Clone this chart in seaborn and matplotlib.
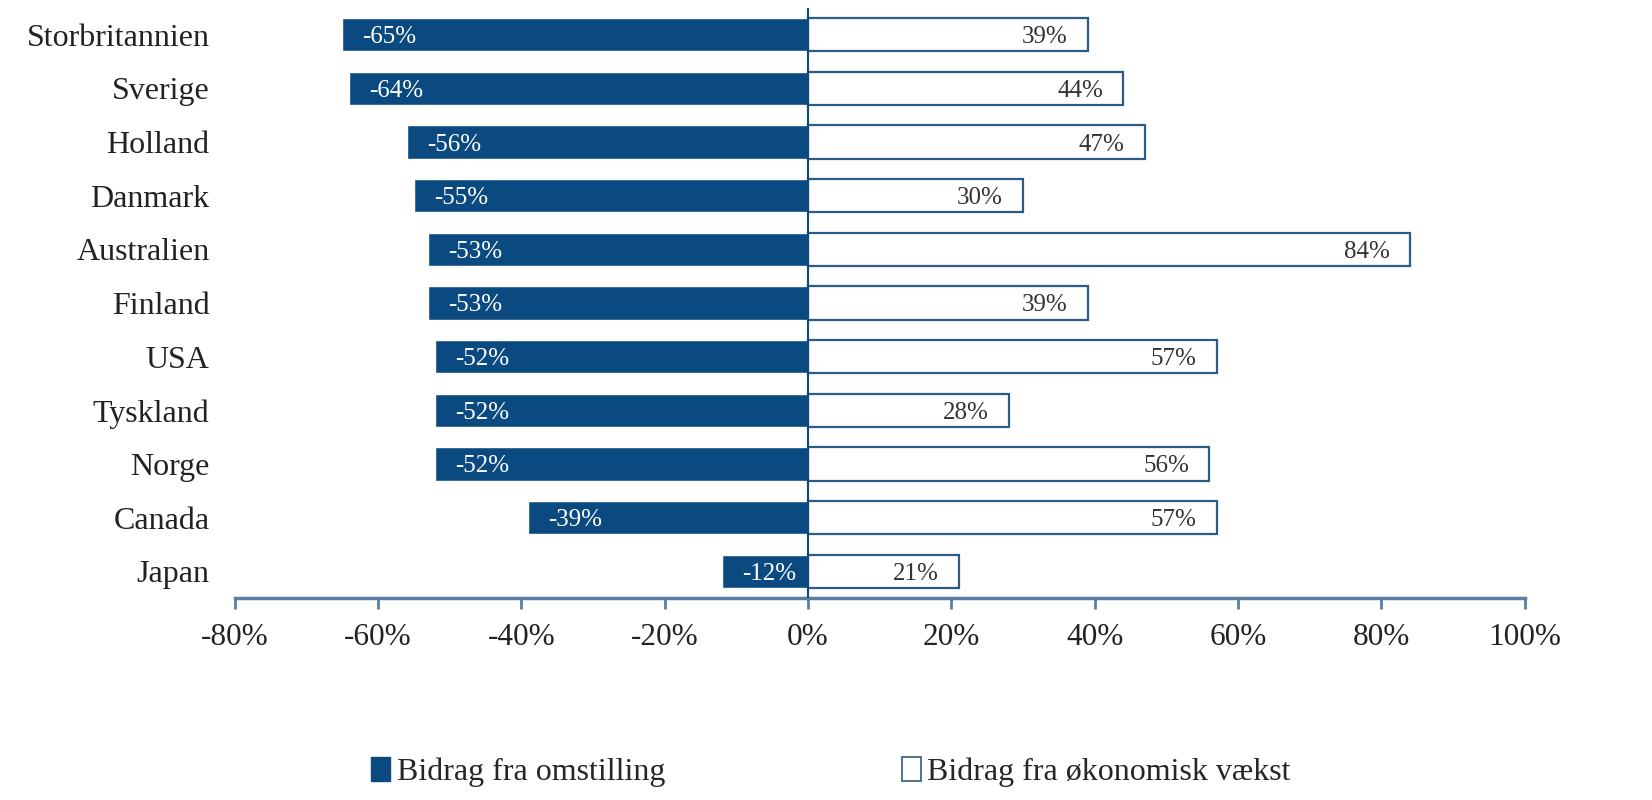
import numpy as np
import pandas as pd
import matplotlib
matplotlib.use("Agg")
import matplotlib.pyplot as plt
import seaborn as sns
from matplotlib.patches import Patch

# Data (percent)
lande = ['Storbritannien', 'Sverige', 'Holland', 'Danmark', 'Australien', 'Finland',
         'USA', 'Tyskland', 'Norge', 'Canada', 'Japan']
omstilling = [-65, -64, -56, -55, -53, -53, -52, -52, -52, -39, -12]
vaekst = [39, 44, 47, 30, 84, 39, 57, 28, 56, 57, 21]
xticks = [-80, -60, -40, -20, 0, 20, 40, 60, 80, 100]

df = pd.DataFrame({'Land': lande, 'Omstilling': omstilling, 'Vaekst': vaekst})

blaa = '#0b4a80'
kant = '#2e5a86'
akse = '#5b7fa2'

sns.set_theme(style="white")
plt.rcParams['font.family'] = ['Liberation Serif', 'DejaVu Serif']

fig = plt.figure(figsize=(16.52, 8), dpi=100)
ax = fig.add_axes([0.142, 0.2525, 0.781, 0.7375])

sns.barplot(data=df, x='Omstilling', y='Land', order=lande, color=blaa,
            saturation=1, width=0.62, orient='h', ax=ax)
sns.barplot(data=df, x='Vaekst', y='Land', order=lande, color='white',
            saturation=1, width=0.62, orient='h', edgecolor=kant, linewidth=1.6, ax=ax)

# Værdietiketter
for i, (o, v) in enumerate(zip(omstilling, vaekst)):
    ax.text(o + 2.8, i, f'{o}%', color='white', fontsize=18, va='center_baseline', ha='left')
    ax.text(v - 2.8, i, f'{v}%', color='#333333', fontsize=18, va='center_baseline', ha='right')

ax.axvline(0, color=blaa, lw=1.5, zorder=3)
ax.set_xlim(-80, 100)
ax.set_ylim(10.5, -0.5)
ax.set_xticks(xticks)
ax.set_xticklabels([f'{t}%' for t in xticks], fontsize=22.5, color='#222222')
ax.tick_params(axis='x', bottom=True, direction='out', length=8, width=2, color=akse, pad=10)
ax.tick_params(axis='y', left=False, length=0, pad=18, labelsize=23, labelcolor='#222222')
ax.set_xlabel('')
ax.set_ylabel('')
for side in ['top', 'right', 'left']:
    ax.spines[side].set_visible(False)
ax.spines['bottom'].set_color(akse)
ax.spines['bottom'].set_linewidth(2.5)

handles = [Patch(facecolor=blaa, edgecolor=blaa),
           Patch(facecolor='white', edgecolor=kant, linewidth=1.2)]
fig.legend(handles, ['Bidrag fra omstilling', 'Bidrag fra økonomisk vækst'],
           loc='lower center', bbox_to_anchor=(0.503, -0.02), ncol=2, frameon=False,
           fontsize=23, handlelength=0.6, handleheight=0.8, handletextpad=0.2,
           columnspacing=7.4)

fig.savefig('out.png', dpi=100)
